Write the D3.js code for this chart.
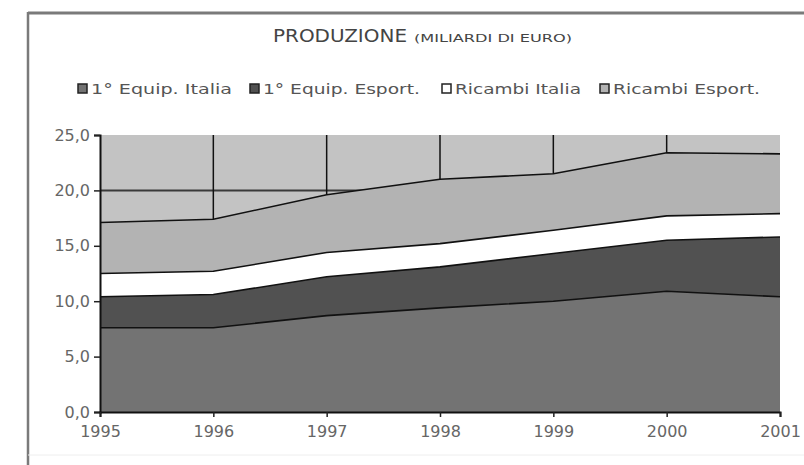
<!DOCTYPE html>
<html>
<head>
<meta charset="utf-8">
<script src="https://cdn.jsdelivr.net/npm/d3@7"></script>
<style>
  body { margin: 0; background: #fff; }
  svg { display: block; }
  text { font-family: "DejaVu Sans", sans-serif; }
</style>
</head>
<body>
<div id="chart"></div>
<script>
(function() {
  var width = 804, height = 465;

  // dati (miliardi di euro)
  var years = [1995, 1996, 1997, 1998, 1999, 2000, 2001];
  var equipItalia  = [7.6, 7.6, 8.7, 9.4, 10.0, 10.9, 10.4];
  var equipEsport  = [2.8, 3.0, 3.5, 3.7, 4.3, 4.6, 5.4];
  var ricambiItalia = [2.1, 2.1, 2.2, 2.1, 2.1, 2.2, 2.1];
  var ricambiEsport = [4.6, 4.7, 5.2, 5.8, 5.1, 5.7, 5.4];
  var seriesNames = ["1° Equip. Italia", "1° Equip. Esport.", "Ricambi Italia", "Ricambi Esport."];
  var yTicks = [0, 5, 10, 15, 20, 25];

  var colors = ["#737373", "#515151", "#ffffff", "#b3b3b3"];

  var table = years.map(function(y, i) {
    return { year: y, s0: equipItalia[i], s1: equipEsport[i], s2: ricambiItalia[i], s3: ricambiEsport[i] };
  });

  var svg = d3.select("#chart").append("svg")
    .attr("width", width)
    .attr("height", height);

  // cornice
  svg.append("line").attr("x1", 28).attr("x2", 804).attr("y1", 13).attr("y2", 13)
    .attr("stroke", "#7a7a7a").attr("stroke-width", 3);
  svg.append("line").attr("x1", 28).attr("x2", 28).attr("y1", 12).attr("y2", 465)
    .attr("stroke", "#7a7a7a").attr("stroke-width", 2.5);
  svg.append("line").attr("x1", 28).attr("x2", 804).attr("y1", 455).attr("y2", 455)
    .attr("stroke", "#eeeeee").attr("stroke-width", 1);

  var x = d3.scaleLinear().domain([1995, 2001]).range([100, 780]);
  var y = d3.scaleLinear().domain([0, 25]).range([412, 135]);

  // sfondo area
  svg.append("rect")
    .attr("x", x(1995)).attr("y", y(25))
    .attr("width", x(2001) - x(1995)).attr("height", y(0) - y(25))
    .attr("fill", "#c3c3c3");

  // griglia
  svg.append("g")
    .selectAll("line.h")
    .data(yTicks.filter(function(d) { return d > 0 && d < 25; }))
    .enter().append("line")
    .attr("x1", x(1995)).attr("x2", x(2001))
    .attr("y1", function(d) { return y(d); }).attr("y2", function(d) { return y(d); })
    .attr("stroke", "#3a3a3a").attr("stroke-width", 2);

  svg.append("g")
    .selectAll("line.v")
    .data(years.slice(1, -1))
    .enter().append("line")
    .attr("x1", function(d) { return x(d); }).attr("x2", function(d) { return x(d); })
    .attr("y1", y(25)).attr("y2", y(0))
    .attr("stroke", "#111").attr("stroke-width", 1.5);

  var stack = d3.stack().keys(["s0", "s1", "s2", "s3"]);
  var layers = stack(table);

  var area = d3.area()
    .x(function(d) { return x(d.data.year); })
    .y0(function(d) { return y(d[0]); })
    .y1(function(d) { return y(d[1]); });

  var topLine = d3.line()
    .x(function(d) { return x(d.data.year); })
    .y(function(d) { return y(d[1]); });

  svg.append("g").selectAll("path")
    .data(layers)
    .enter().append("path")
    .attr("d", area)
    .attr("fill", function(d, i) { return colors[i]; });

  svg.append("g").selectAll("path")
    .data(layers)
    .enter().append("path")
    .attr("d", topLine)
    .attr("fill", "none")
    .attr("stroke", "#111")
    .attr("stroke-width", 1.6);

  // assi
  var yAxis = d3.axisLeft(y).tickValues(yTicks).tickSize(6).tickPadding(4)
    .tickFormat(function(d) { return d3.format(".1f")(d).replace(".", ","); });
  var gy = svg.append("g").attr("transform", "translate(" + x(1995) + ",0)").call(yAxis);

  var xAxis = d3.axisBottom(x).tickValues(years).tickSize(5).tickPadding(6).tickFormat(d3.format("d"));
  var gx = svg.append("g").attr("transform", "translate(0," + y(0) + ")").call(xAxis);

  [gx, gy].forEach(function(g) {
    g.select(".domain").attr("stroke", "#111").attr("stroke-width", 2);
    g.selectAll(".tick line").attr("stroke", "#222").attr("stroke-width", 1.5);
    g.selectAll(".tick text").attr("fill", "#666").style("font-size", "16px");
  });
  gx.selectAll(".tick text").attr("dy", "0.9em");

  // titolo
  svg.append("text").attr("x", 273).attr("y", 42)
    .attr("textLength", 134).attr("lengthAdjust", "spacingAndGlyphs")
    .style("font-size", "17px").attr("fill", "#444")
    .text("PRODUZIONE");
  svg.append("text").attr("x", 414).attr("y", 42)
    .attr("textLength", 158).attr("lengthAdjust", "spacingAndGlyphs")
    .style("font-size", "11px").attr("fill", "#444")
    .text("(MILIARDI DI EURO)");

  // legenda
  var legendX = [78, 250, 442, 600];
  var legendW = [144, 160, 129, 150];
  var legend = svg.append("g").selectAll("g")
    .data(seriesNames)
    .enter().append("g")
    .attr("transform", function(d, i) { return "translate(" + legendX[i] + ",84)"; });

  legend.append("rect")
    .attr("width", 9).attr("height", 9)
    .attr("fill", function(d, i) { return colors[i]; })
    .attr("stroke", "#222").attr("stroke-width", 1.5);

  legend.append("text")
    .attr("x", 13).attr("y", 10)
    .attr("textLength", function(d, i) { return legendW[i] - 3; })
    .attr("lengthAdjust", "spacingAndGlyphs")
    .style("font-size", "14.5px").attr("fill", "#555")
    .text(function(d) { return d; });
})();
</script>
</body>
</html>
